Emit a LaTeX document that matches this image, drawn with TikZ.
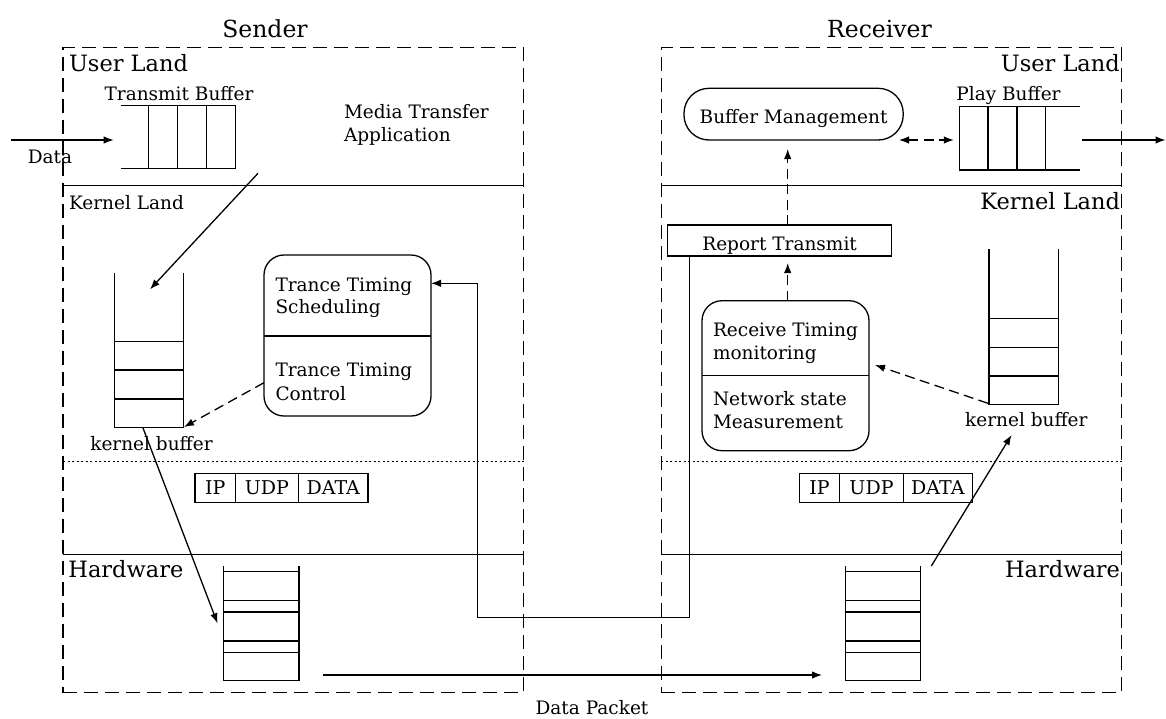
\documentclass[tikz,border=0pt]{standalone}
\usepackage{fontspec}
\setmainfont{DejaVu Serif}
\usetikzlibrary{arrows.meta}
\begin{document}
\begin{tikzpicture}[x=1pt,y=-1pt,
  every node/.style={inner sep=0pt,outer sep=0pt},
  ln/.style={line width=1.3pt},
  zone/.style={draw,line width=1.3pt,dash pattern=on 14pt off 7pt},
  dots/.style={line width=1.2pt,dash pattern=on 2pt off 2.5pt},
  flow/.style={line width=1.3pt,-{Latex[length=10pt,width=7.5pt]}},
  dflow/.style={flow,dash pattern=on 10pt off 5.5pt},
  dboth/.style={line width=1.3pt,{Latex[length=10pt,width=7.5pt]}-{Latex[length=10pt,width=7.5pt]},dash pattern=on 10pt off 5.5pt},
  txt/.style={font=\fontsize{18.5}{23}\selectfont},
  ttl/.style={font=\fontsize{23.5}{28}\selectfont},
  zlab/.style={font=\fontsize{22.5}{27}\selectfont},
  zlabs/.style={font=\fontsize{18.5}{23}\selectfont},
  rbox/.style={draw,line width=1.3pt,rounded corners=20pt},
  sbox/.style={draw,line width=1.3pt},
  pk/.style={draw,line width=1.3pt,minimum height=29.4pt,anchor=north west,font=\fontsize{19}{23}\selectfont},
]
\useasboundingbox (0,0) rectangle (1166,718);

% zones
\node[zone,anchor=north west,minimum width=460.5pt,minimum height=645pt] (sender) at (63,47.7) {};
\node[zone,anchor=north west,minimum width=460.3pt,minimum height=645pt] (receiver) at (661.4,47.7) {};
\draw[ln] (63,185.7) -- (523.5,185.7);
\draw[dots] (63,461.7) -- (523.5,461.7);
\draw[ln] (63,554.3) -- (523.5,554.3);
\draw[ln] (661.4,185.7) -- (1121.7,185.7);
\draw[dots] (661.4,461.7) -- (1121.7,461.7);
\draw[ln] (661.4,554.3) -- (1121.7,554.3);

% titles and zone labels
\node[ttl,anchor=base] (sendttl) at (265,37.3) {Sender};
\node[ttl,anchor=base] (recvttl) at (879.5,37.3) {Receiver};
\node[zlab,anchor=base west] (sul) at (69,71.7) {User Land};
\node[zlabs,anchor=base west] (skl) at (69,209) {Kernel Land};
\node[zlab,anchor=base west] (shw) at (68.4,577.7) {Hardware};
\node[zlab,anchor=base east] (rul) at (1119.8,71) {User Land};
\node[zlab,anchor=base east] (rkl) at (1120,209) {Kernel Land};
\node[zlab,anchor=base east] (rhw) at (1120,577.7) {Hardware};

% transmit buffer
\draw[ln] (120.5,105.7) -- (235.2,105.7) -- (235.2,168.3) -- (120.5,168.3);
\foreach \x in {148.8,177.7,206.6} \draw[ln] (\x,105.7) -- (\x,168.3);
\node[txt,anchor=base] (txlab) at (179,100) {Transmit Buffer};
\node[txt,anchor=base] (datalab) at (50,163) {Data};
\node[txt,anchor=base west] (media1) at (344,118.3) {Media Transfer};
\node[txt,anchor=base west] (media2) at (344,141.7) {Application};

% sender kernel buffer
\draw[ln] (114.7,272.7) -- (114.7,427.7) -- (183.2,427.7) -- (183.2,272.7);
\foreach \y in {341.7,370,399} \draw[ln] (114.7,\y) -- (183.2,\y);
\node[txt,anchor=base] (skblab) at (151.5,450) {kernel buffer};

% trance timing box
\node[rbox,anchor=north west,minimum width=167pt,minimum height=161pt] (ttbox) at (264,255) {};
\draw[ln] (264,336) -- (431,336);
\node[txt,anchor=base west] (tt1) at (275.5,291) {Trance Timing};
\node[txt,anchor=base west] (tt2) at (275.5,313.3) {Scheduling};
\node[txt,anchor=base west] (tt3) at (275.5,376.7) {Trance Timing};
\node[txt,anchor=base west] (tt4) at (275.5,400.7) {Control};

% sender packet
\node[pk,minimum width=40.3pt] (sip) at (195,473.3) {IP};
\node[pk,minimum width=63.2pt] (sudp) at (sip.north east) {UDP};
\node[pk,minimum width=69.5pt] (sdata) at (sudp.north east) {DATA};

% sender hardware buffer
\draw[ln] (223.8,566) -- (223.8,680.7) -- (298.9,680.7) -- (298.9,566);
\foreach \y in {571.7,600.7,612,641,652.3} \draw[ln] (223.8,\y) -- (298.9,\y);

% receiver hardware buffer
\draw[ln] (845.3,566) -- (845.3,680.7) -- (920.8,680.7) -- (920.8,566);
\foreach \y in {571.7,600.7,612,641,652.3} \draw[ln] (845.3,\y) -- (920.8,\y);

% receiver packet
\node[pk,minimum width=40.3pt] (rip) at (799.4,473.3) {IP};
\node[pk,minimum width=63.6pt] (rudp) at (rip.north east) {UDP};
\node[pk,minimum width=69.1pt] (rdata) at (rudp.north east) {DATA};

% receiver kernel buffer
\draw[ln] (989,249.3) -- (989,404.3) -- (1058.5,404.3) -- (1058.5,249.3);
\foreach \y in {318.3,347.3,376} \draw[ln] (989,\y) -- (1058.5,\y);
\node[txt,anchor=base] (rkblab) at (1026.3,426.7) {kernel buffer};

% receive timing box
\node[rbox,anchor=north west,minimum width=167pt,minimum height=150pt] (rtbox) at (702,300.7) {};
\draw[ln] (702,375.7) -- (869,375.7);
\node[txt,anchor=base west] (rt1) at (713,336.7) {Receive Timing};
\node[txt,anchor=base west] (rt2) at (713,359.3) {monitoring};
\node[txt,anchor=base west] (rt3) at (713,405) {Network state};
\node[txt,anchor=base west] (rt4) at (713,428.3) {Measurement};

% report transmit
\node[sbox,txt,anchor=north west,minimum width=224.2pt,minimum height=31pt,text height=19pt,text depth=0pt] (rpt) at (667.5,225) {Report Transmit};

% buffer management
\node[rbox,txt,rounded corners=25pt,anchor=north west,minimum width=219.2pt,minimum height=51.7pt,text height=18pt,text depth=0pt] (bm) at (684,88.3) {Buffer Management};

% play buffer
\draw[ln] (1080,106.7) -- (959.2,106.7) -- (959.2,170) -- (1080,170);
\foreach \x in {988,1017,1045.8} \draw[ln] (\x,106.7) -- (\x,170);
\node[txt,anchor=base] (pblab) at (1008.5,100) {Play Buffer};

\node[txt,anchor=base] (pktlab) at (592,714.5) {Data Packet};

% connector end points
\coordinate (datain) at (11,140);
\coordinate (txin) at (113.7,140);
\coordinate (txout) at (258,173.3);
\coordinate (kbin) at (150,289.3);
\coordinate (ttcout) at (264,382.7);
\coordinate (kbctl) at (184,427);
\coordinate (kbout) at (143,428);
\coordinate (hwin) at (217.5,623.3);
\coordinate (pktout) at (322.5,675);
\coordinate (pktin) at (822,675);
\coordinate (hwout) at (931.3,566);
\coordinate (rkbin) at (1011.5,435);
\coordinate (rkbout) at (988,403.3);
\coordinate (rtmin) at (875,365);
\coordinate (rtmout) at (787.7,300.7);
\coordinate (rptin) at (787.7,263);
\coordinate (rptout) at (787.7,225);
\coordinate (bmin) at (787.7,149);
\coordinate (bmr) at (899,140);
\coordinate (pbl) at (953.8,140);
\coordinate (pbout) at (1082,140);
\coordinate (dataout) at (1165.5,140);
\coordinate (rptline) at (689.5,256);
\coordinate (loop) at (477.2,617.3);
\coordinate (ttsin) at (431,283.3);

% connectors
\draw[flow] (datain) -- (txin);
\draw[flow] (txout) -- (kbin);
\draw[dflow] (ttcout) -- (kbctl);
\draw[flow] (kbout) -- (hwin);
\draw[flow] (pktout) -- (pktin);
\draw[flow] (hwout) -- (rkbin);
\draw[dflow] (rkbout) -- (rtmin);
\draw[dflow] (rtmout) -- (rptin);
\draw[dflow] (rptout) -- (bmin);
\draw[dboth] (bmr) -- (pbl);
\draw[flow] (pbout) -- (dataout);
\draw[flow] (rptline) |- (loop) |- (ttsin);
\end{tikzpicture}
\end{document}
